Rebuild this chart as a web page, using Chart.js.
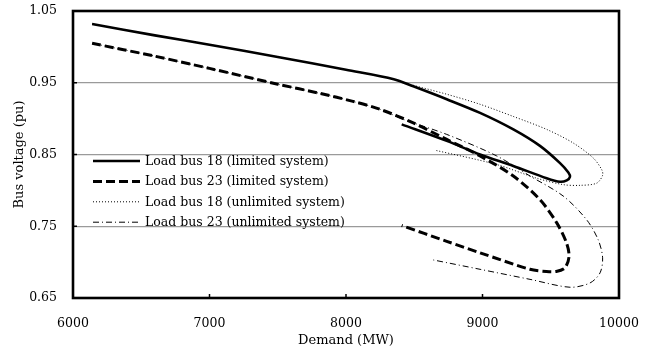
<!DOCTYPE html>
<html><head><meta charset="utf-8">
<script src="https://cdn.jsdelivr.net/npm/chart.js@4/dist/chart.umd.min.js"></script>
<style>html,body{margin:0;padding:0;background:#fff;}#wrap{width:656px;height:354px;}</style>
</head><body><div id="wrap"><canvas id="c" width="656" height="354"></canvas></div>
<script>
const xTicks = [6000, 7000, 8000, 9000, 10000];
const yTicks = [0.65, 0.75, 0.85, 0.95, 1.05];
const seriesLabels = [
  'Load bus 18 (limited system)',
  'Load bus 23 (limited system)',
  'Load bus 18 (unlimited system)',
  'Load bus 23 (unlimited system)'
];
const xTitle = 'Demand (MW)';
const yTitle = 'Bus voltage (pu)';

const bus18LimitedX = [6140, 6600, 7000, 7500, 8000, 8350, 8493, 8738, 8982, 9226, 9421, 9568, 9629, 9641, 9617, 9568, 9470, 9226, 8982, 8738, 8408];
const bus18LimitedY = [1.032, 1.016, 1.003, 0.986, 0.968, 0.955, 0.945, 0.927, 0.908, 0.885, 0.862, 0.838, 0.825, 0.819, 0.814, 0.812, 0.817, 0.834, 0.850, 0.869, 0.892];

const bus23LimitedX = [6140, 6600, 7000, 7500, 7813, 8051, 8249, 8493, 8738, 8982, 9226, 9421, 9543, 9615, 9634, 9604, 9540, 9468, 9348, 8982, 8738, 8408];
const bus23LimitedY = [1.005, 0.987, 0.970, 0.948, 0.935, 0.924, 0.913, 0.894, 0.871, 0.848, 0.820, 0.787, 0.755, 0.727, 0.708, 0.692, 0.687, 0.687, 0.690, 0.713, 0.729, 0.751];

const bus18UnlimitedX = [6140, 6600, 7000, 7500, 8000, 8350, 8444, 8738, 8982, 9226, 9470, 9665, 9812, 9873, 9880, 9836, 9714, 9592, 9397, 9104, 8652];
const bus18UnlimitedY = [1.032, 1.016, 1.003, 0.986, 0.968, 0.955, 0.949, 0.934, 0.920, 0.903, 0.885, 0.866, 0.845, 0.829, 0.821, 0.810, 0.807, 0.808, 0.817, 0.836, 0.856];

const bus23UnlimitedX = [6140, 6600, 7000, 7500, 7813, 8051, 8249, 8420, 8738, 9104, 9348, 9592, 9763, 9848, 9880, 9861, 9788, 9641, 9348, 8982, 8640];
const bus23UnlimitedY = [1.005, 0.987, 0.970, 0.948, 0.935, 0.924, 0.913, 0.899, 0.878, 0.848, 0.820, 0.792, 0.759, 0.731, 0.706, 0.685, 0.671, 0.665, 0.676, 0.690, 0.703];

function pts(xs, ys) { return xs.map((x, i) => ({x: x, y: ys[i]})); }

const FONT = "'DejaVu Serif', serif";
Chart.defaults.font.family = FONT;
Chart.defaults.color = '#000';

const styles = [
  {borderWidth: 2.6, borderDash: []},
  {borderWidth: 3, borderDash: [9, 4]},
  {borderWidth: 1, borderDash: [1, 2]},
  {borderWidth: 1, borderDash: [6, 3, 1, 3]}
];
const seriesData = [
  pts(bus18LimitedX, bus18LimitedY),
  pts(bus23LimitedX, bus23LimitedY),
  pts(bus18UnlimitedX, bus18UnlimitedY),
  pts(bus23UnlimitedX, bus23UnlimitedY)
];

const datasets = seriesLabels.map((lab, i) => ({
  label: lab,
  data: seriesData[i],
  showLine: true,
  borderColor: '#000',
  backgroundColor: '#000',
  borderWidth: styles[i].borderWidth,
  borderDash: styles[i].borderDash,
  pointRadius: 0,
  tension: 0.3,
  fill: false
}));

const framePlugin = {
  id: 'frame',
  afterDraw(chart) {
    const {ctx, chartArea: a, scales} = chart;
    ctx.save();
    ctx.strokeStyle = '#000';
    ctx.lineWidth = 1.5;
    xTicks.slice(1, -1).forEach(v => {
      const px = scales.x.getPixelForValue(v);
      ctx.beginPath(); ctx.moveTo(px, a.bottom); ctx.lineTo(px, a.bottom - 4); ctx.stroke();
    });
    yTicks.slice(1, -1).forEach(v => {
      const py = scales.y.getPixelForValue(v);
      ctx.beginPath(); ctx.moveTo(a.left, py); ctx.lineTo(a.left + 4, py); ctx.stroke();
    });
    ctx.lineWidth = 2.6;
    ctx.strokeRect(a.left, a.top, a.right - a.left, a.bottom - a.top);
    ctx.restore();
  }
};

const legendPlugin = {
  id: 'inlineLegend',
  afterDraw(chart) {
    const {ctx, chartArea: a} = chart;
    ctx.save();
    ctx.font = "12.5px " + FONT;
    ctx.fillStyle = '#000';
    ctx.textBaseline = 'middle';
    chart.data.datasets.forEach((ds, i) => {
      const y = 161 + i * 20.4;
      ctx.strokeStyle = '#000';
      ctx.lineWidth = ds.borderWidth;
      ctx.setLineDash(ds.borderDash);
      ctx.beginPath(); ctx.moveTo(a.left + 20, y); ctx.lineTo(a.left + 67, y); ctx.stroke();
      ctx.setLineDash([]);
      ctx.fillText(ds.label, a.left + 72, y + 0.5);
    });
    ctx.restore();
  }
};

new Chart(document.getElementById('c'), {
  type: 'scatter',
  data: {datasets: datasets},
  plugins: [framePlugin, legendPlugin],
  options: {
    responsive: false,
    animation: false,
    layout: {padding: {left: 0, right: 37, top: 11, bottom: 0}},
    plugins: {legend: {display: false}, tooltip: {enabled: false}},
    scales: {
      x: {
        type: 'linear', min: 6000, max: 10000,
        afterBuildTicks: s => { s.ticks = xTicks.map(v => ({value: v})); },
        ticks: {padding: 18, font: {size: 12.5}, maxRotation: 0, callback: v => String(v)},
        grid: {display: false, drawTicks: false},
        border: {display: false},
        title: {display: true, text: xTitle, font: {size: 13}, padding: {top: 0, bottom: 6}},
        afterFit: s => { s.height = 56; s.paddingLeft = 0; s.paddingRight = 0; }
      },
      y: {
        type: 'linear', min: 0.65, max: 1.05,
        afterBuildTicks: s => { s.ticks = yTicks.map(v => ({value: v})); },
        ticks: {padding: 16, font: {size: 12.5}, callback: v => Number(v).toFixed(2)},
        grid: {color: '#9a9a9a', lineWidth: 1.2, drawTicks: false},
        border: {display: false},
        title: {display: true, text: yTitle, font: {size: 13}, padding: {top: 12, bottom: 0}},
        afterFit: s => { s.width = 73; s.paddingTop = 0; s.paddingBottom = 0; }
      }
    }
  }
});
</script></body></html>
